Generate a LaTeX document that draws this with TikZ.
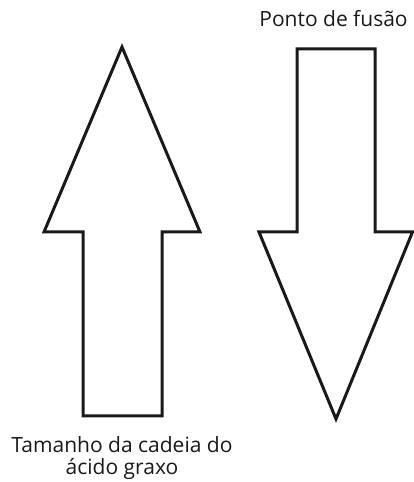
\documentclass[tikz,border=0pt]{standalone}
\usepackage{fontspec}
\setmainfont{Open Sans}
\begin{document}
\begin{tikzpicture}[x=1pt,y=1pt,
  arrowshape/.style={draw=black!90, line width=3pt, line join=miter},
  lbl/.style={font=\fontsize{21}{22}\selectfont, text=black!90, inner sep=0pt, anchor=base}]
\useasboundingbox (0,0) rectangle (414,482);
% up arrow
\draw[arrowshape] (122,435) -- (200,250) -- (162,250) -- (162,66) -- (83,66) -- (83,250) -- (44,250) -- cycle;
% down arrow
\draw[arrowshape] (297,433) -- (375,433) -- (375,250) -- (412.5,250) -- (336,63) -- (259,250) -- (297,250) -- cycle;
\node[lbl] (pf) at (333.5,455) {Ponto de fusão};
\node[lbl] (tc1) at (122,29) {Tamanho da cadeia do};
\node[lbl] (tc2) at (122,7) {ácido graxo};
\end{tikzpicture}
\end{document}
